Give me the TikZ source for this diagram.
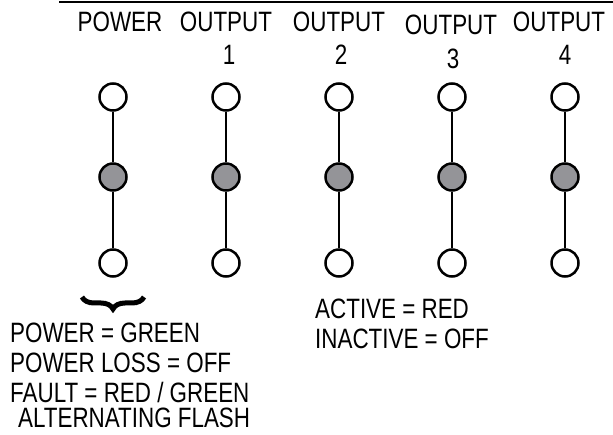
\documentclass[tikz,border=0pt]{standalone}
\usepackage{fontspec}
\setmainfont{Liberation Sans}[FakeStretch=0.8]
\usetikzlibrary{decorations.pathreplacing}
\definecolor{ledgray}{RGB}{148,148,152}
\begin{document}
\begin{tikzpicture}[x=1pt,y=-1pt,
  led/.style={circle,draw=black,line width=2.5pt,minimum size=27pt,inner sep=0pt,fill=white},
  ledon/.style={led,fill=ledgray},
  wire/.style={line width=2.4pt},
  lbl/.style={inner sep=0pt,font=\fontsize{28}{30}\selectfont},
  lbll/.style={lbl,anchor=west}]
\useasboundingbox (0,0) rectangle (613,435);
\coordinate (ls) at (59,2);
\coordinate (le) at (613,2);
\draw[line width=2pt] (ls) -- (le);
% headers
\node[lbl] (hp) at (120,22) {POWER};
\node[lbl] (h1) at (226,22) {OUTPUT};
\node[lbl] (h2) at (339,22) {OUTPUT};
\node[lbl] (h3) at (451,25) {OUTPUT};
\node[lbl] (h4) at (559,22) {OUTPUT};
\node[lbl] (n1) at (229,55) {1};
\node[lbl] (n2) at (341,55) {2};
\node[lbl] (n3) at (453,59) {3};
\node[lbl] (n4) at (565,55) {4};
% LED columns
\foreach \i/\x in {0/113,1/226,2/339,3/452,4/565}{
  \node[led] (t\i) at (\x,97) {};
  \node[ledon] (m\i) at (\x,177) {};
  \node[led] (b\i) at (\x,263) {};
  \draw[wire] (t\i) -- (m\i);
  \draw[wire] (m\i) -- (b\i);
}
% brace
\coordinate (bl) at (82,297);
\coordinate (br) at (144,297);
\draw[line width=5pt,decorate,decoration={brace,mirror,amplitude=12pt}] (bl) -- (br);
% legends
\node[lbll] (p1) at (10,333) {POWER = GREEN};
\node[lbll] (p2) at (10,363) {POWER LOSS = OFF};
\node[lbll] (p3) at (10,392) {FAULT = RED / GREEN};
\node[lbll] (p4) at (18,418) {ALTERNATING FLASH};
\node[lbll] (a1) at (315,309) {ACTIVE = RED};
\node[lbll] (a2) at (315,339) {INACTIVE = OFF};
\end{tikzpicture}
\end{document}
